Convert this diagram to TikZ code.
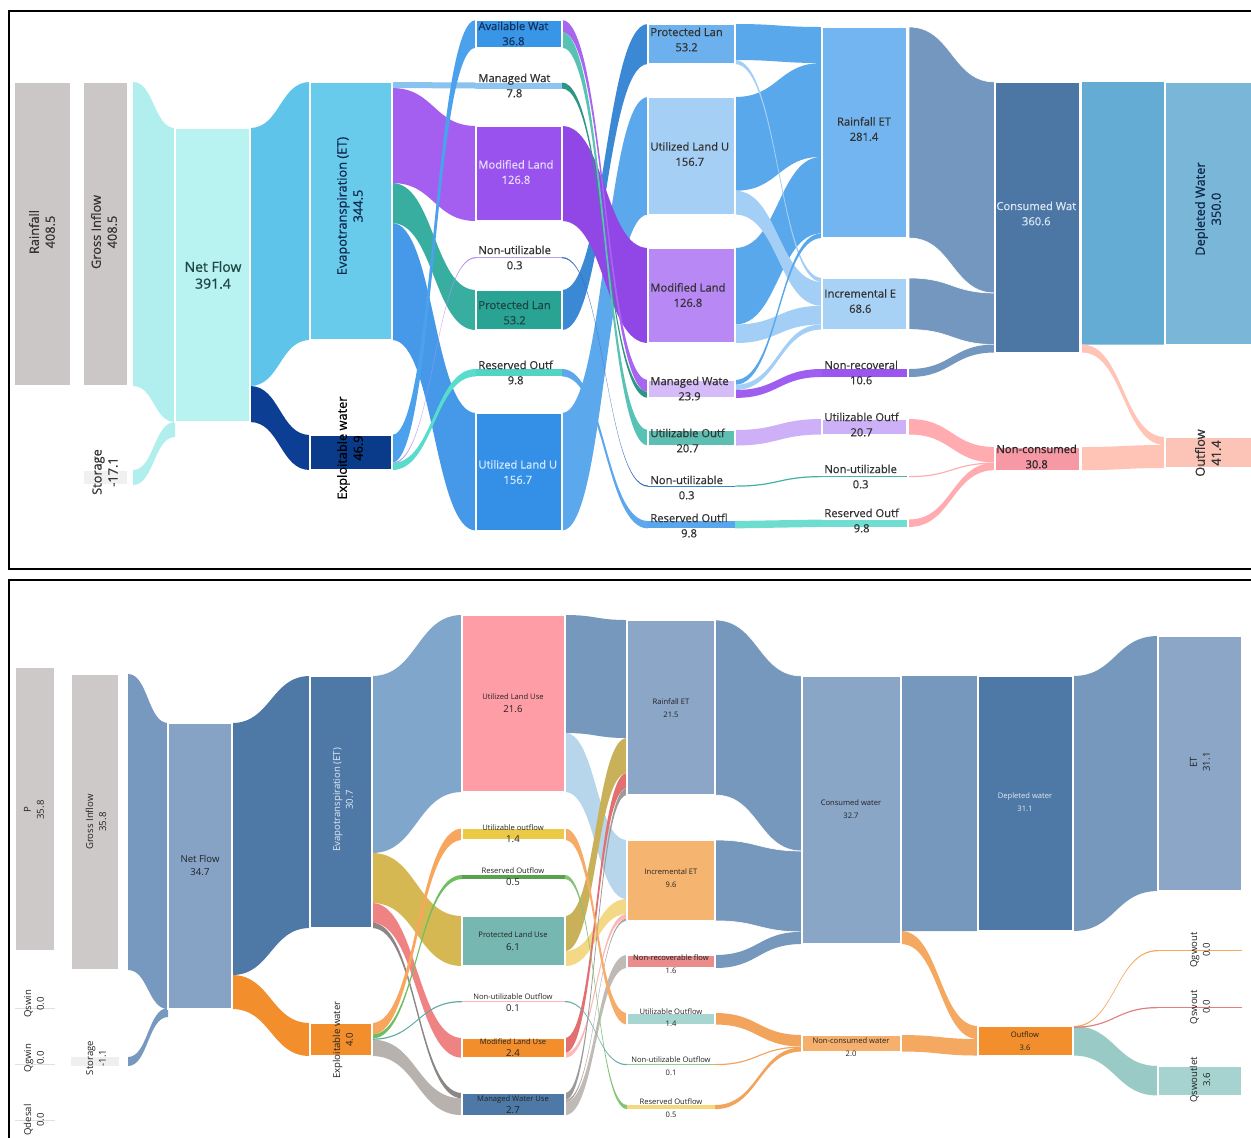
\documentclass[tikz,border=0pt]{standalone}
\usepackage{fontspec}
\setmainfont{Open Sans}
\newfontfamily\medfont[FakeBold=0.6]{Open Sans}
\usetikzlibrary{calc}
\pgfdeclarelayer{bands}
\pgfsetlayers{bands,main}

% ---------- colours: upper diagram ----------
\definecolor{ink}{HTML}{333333}
\definecolor{inkNavy}{HTML}{12305E}
\definecolor{inkTeal}{HTML}{1E4644}
\definecolor{inkLite}{HTML}{E6DCFF}
\definecolor{inkLiteB}{HTML}{D6EAFF}
\definecolor{inkLiteS}{HTML}{DCE6F2}
\definecolor{tGray}{HTML}{CCC7C7}
\definecolor{tStor}{HTML}{F0F0F0}
\definecolor{tNetF}{HTML}{B0EFED}
\definecolor{tNet}{HTML}{B8F3F1}
\definecolor{tEtF}{HTML}{5EC4EA}
\definecolor{tEt}{HTML}{68CBEC}
\definecolor{tExF}{HTML}{0C3F93}
\definecolor{tEx}{HTML}{0A3A8A}
\definecolor{tAv}{HTML}{3996E6}
\definecolor{tAvF}{HTML}{4BA1EB}
\definecolor{tMnE}{HTML}{8DC4F1}
\definecolor{tMnEF}{HTML}{8AC3F0}
\definecolor{tMdE}{HTML}{9A52EE}
\definecolor{tMdEF}{HTML}{A45FF0}
\definecolor{tNuE}{HTML}{B9A0EE}
\definecolor{tNuEF}{HTML}{BB90F2}
\definecolor{tPrE}{HTML}{29A394}
\definecolor{tPrEF}{HTML}{37AEA0}
\definecolor{tRsE}{HTML}{4FD4C5}
\definecolor{tRsEF}{HTML}{58DCCC}
\definecolor{tUtE}{HTML}{3490E6}
\definecolor{tUtEF}{HTML}{4699E9}
\definecolor{tPurF}{HTML}{A866F0}
\definecolor{tTeaF}{HTML}{58C3B4}
\definecolor{tDkTeaF}{HTML}{2E9585}
\definecolor{tMdFF}{HTML}{9146E6}
\definecolor{tNuFF}{HTML}{3A6CC0}
\definecolor{tPrFF}{HTML}{3B88D4}
\definecolor{tRsFF}{HTML}{5DA8EC}
\definecolor{tUtFF}{HTML}{5CA8EC}
\definecolor{tPrF}{HTML}{6CB1EE}
\definecolor{tUtF}{HTML}{A6CFF5}
\definecolor{tMdF}{HTML}{B888F4}
\definecolor{tMnF}{HTML}{D5BBF8}
\definecolor{tUoF}{HTML}{5CBFB1}
\definecolor{tNuF}{HTML}{3F7FCF}
\definecolor{tRsF}{HTML}{5AA6EC}
\definecolor{tRetF}{HTML}{5AA8EC}
\definecolor{tIetF}{HTML}{A3CEF5}
\definecolor{tNrF}{HTML}{A05EF0}
\definecolor{tUoGF}{HTML}{CDB0F8}
\definecolor{tNuGF}{HTML}{3FB2A2}
\definecolor{tRsGF}{HTML}{6FDCD0}
\definecolor{tRet}{HTML}{72B5F0}
\definecolor{tIet}{HTML}{A8D1F6}
\definecolor{tNr}{HTML}{9B56F0}
\definecolor{tUoG}{HTML}{CDB1F8}
\definecolor{tNuG}{HTML}{45B5A5}
\definecolor{tRsG}{HTML}{70DDD2}
\definecolor{tConF}{HTML}{7397BF}
\definecolor{tNcF}{HTML}{FFABB0}
\definecolor{tCon}{HTML}{4C77A5}
\definecolor{tNc}{HTML}{F799A5}
\definecolor{tDpF}{HTML}{64ACD3}
\definecolor{tOuF}{HTML}{FFC4B6}
\definecolor{tDp}{HTML}{79B6D7}
\definecolor{tOu}{HTML}{FCC4B6}
% ---------- colours: lower diagram ----------
\definecolor{bGray}{HTML}{CDC9C9}
\definecolor{bStor}{HTML}{EFEFEF}
\definecolor{bLine}{HTML}{E0E0E0}
\definecolor{bNetF}{HTML}{7799C0}
\definecolor{bNet}{HTML}{86A3C6}
\definecolor{bSteel}{HTML}{4E79A7}
\definecolor{bOrange}{HTML}{F28E2B}
\definecolor{bUtE}{HTML}{FF9DA7}
\definecolor{bUoE}{HTML}{EDC948}
\definecolor{bRsE}{HTML}{59A14F}
\definecolor{bPrE}{HTML}{76B7B2}
\definecolor{bNuE}{HTML}{FFB3BD}
\definecolor{bUtEF}{HTML}{80A7CB}
\definecolor{bPrEF}{HTML}{D6B853}
\definecolor{bMdEF}{HTML}{EF8383}
\definecolor{bMnEFa}{HTML}{8C8785}
\definecolor{bUoEF}{HTML}{F8A65E}
\definecolor{bRsEF}{HTML}{6FBF62}
\definecolor{bNuEF}{HTML}{5EA9A2}
\definecolor{bMnEFb}{HTML}{B8B2AE}
\definecolor{bSteelF}{HTML}{7698BD}
\definecolor{bLtBlue}{HTML}{B7D5EB}
\definecolor{bKhaki}{HTML}{C9B15A}
\definecolor{bLtYel}{HTML}{F3D985}
\definecolor{bRed}{HTML}{E37070}
\definecolor{bPink}{HTML}{FFB8B8}
\definecolor{bGrA}{HTML}{9E9A97}
\definecolor{bGrB}{HTML}{AAA5A2}
\definecolor{bGrC}{HTML}{BFBAB6}
\definecolor{bOrF}{HTML}{F7AB68}
\definecolor{bGrnF}{HTML}{84C477}
\definecolor{bTealF}{HTML}{6AAEA8}
\definecolor{bRet}{HTML}{8BA6C6}
\definecolor{bIet}{HTML}{F5B571}
\definecolor{bNr}{HTML}{EA8C8C}
\definecolor{bUoF}{HTML}{A7D6D1}
\definecolor{bNuF}{HTML}{8FD08A}
\definecolor{bRsF}{HTML}{F5D77C}
\definecolor{bCon}{HTML}{8AA6C6}
\definecolor{bNc}{HTML}{F5B06E}
\definecolor{bNcF}{HTML}{F3A45C}
\definecolor{bOuF}{HTML}{F5A860}
\definecolor{bQsw}{HTML}{E57D7D}
\definecolor{bQsl}{HTML}{A6D3CF}
\definecolor{bQslF}{HTML}{99CAC5}
\definecolor{inkB}{HTML}{222222}
\definecolor{inkBL}{HTML}{E4EBF3}

\tikzset{
  blk/.style={inner sep=0pt, outer sep=0pt, anchor=north west},
  sepline/.style={draw=white, line width=0.6pt},
  lab/.style={inner sep=0pt, align=center, text=ink},
  fbig/.style={font=\medfont\fontsize{6.4}{8}\selectfont},
  fnet/.style={font=\medfont\fontsize{7}{8.4}\selectfont},
  fcol/.style={font=\medfont\fontsize{5.6}{7.6}\selectfont},
  fsm/.style={font=\fontsize{3.8}{6.2}\selectfont},
  fmd/.style={font=\fontsize{4.8}{6.4}\selectfont},
  up/.style={rotate=90},
  frame/.style={draw=black, line width=1pt},
}

% a bar of the diagram: [options]{name}{x1}{y1}{x2}{y2}{colour}
\newcommand\sbar[7][sepline]{%
  \node[blk,fill=#7,minimum width={(#5-#3)*0.5pt},minimum height={(#6-#4)*0.5pt},#1] (#2) at (#3,#4) {};}
% a band from one bar to another: [gap]{from}{top}{bottom}{to}{top}{bottom}{style}
% offsets are measured downwards from the top edge of each bar;
% the optional gap leaves white space after the source bar
\newcommand\band[8][0]{%
  \begin{pgfonlayer}{bands}
  \fill[#8] let \p1=($(#2.north east)+(#1,0)$), \p2=(#5.north west), \n1={0.5*(\x1+\x2)} in
    (\x1,{\y1-(#3)*0.5pt}) .. controls ({\n1*1pt},{\y1-(#3)*0.5pt}) and ({\n1*1pt},{\y2-(#6)*0.5pt}) .. (\x2,{\y2-(#6)*0.5pt})
    -- (\x2,{\y2-(#7)*0.5pt}) .. controls ({\n1*1pt},{\y2-(#7)*0.5pt}) and ({\n1*1pt},{\y1-(#4)*0.5pt}) .. (\x1,{\y1-(#4)*0.5pt}) -- cycle;
  \end{pgfonlayer}}

\begin{document}
\begin{tikzpicture}[x=0.5pt,y=-0.5pt]
\useasboundingbox (0,0) rectangle (1251,1137);
\begin{pgfonlayer}{bands}
\fill[white] (0,0) rectangle (1251,1137);
\end{pgfonlayer}

% =================== upper diagram ===================
\sbar{Train}{14}{82}{71}{386}{tGray}
\sbar{Tgross}{83}{82}{128}{386}{tGray}
\sbar{Tstor}{83}{470}{128}{485}{tStor}
\sbar{Tnet}{175}{128}{250}{422}{tNet}
\sbar{Tet}{310}{82}{392}{340}{tEt}
\sbar{Texpl}{310}{435}{392}{470}{tEx}
% land / water classes
\sbar{TavE}{476}{20}{562}{47.6}{tAv}
\sbar[]{TmnE}{476}{82.5}{562}{88.5}{tMnE}
\sbar{TmdE}{476}{126}{562}{221}{tMdE}
\sbar[]{TnuE}{476}{257}{562}{258.2}{tNuE}
\sbar{TprE}{476}{290}{562}{330}{tPrE}
\sbar[]{TrsE}{476}{369}{562}{376.4}{tRsE}
\sbar{TutE}{476}{413}{562}{530.5}{tUtE}
% land use
\sbar{TprF}{648}{24}{735}{64}{tPrF}
\sbar{TutF}{648}{97}{735}{214.5}{tUtF}
\sbar{TmdF}{648}{248}{735}{343}{tMdF}
\sbar{TmnF}{648}{380}{735}{397.9}{tMnF}
\sbar{TuoF}{648}{430}{735}{445.5}{tUoF}
\sbar[]{TnuF}{648}{485.5}{735}{486.7}{tNuF}
\sbar[]{TrsF}{648}{521}{735}{528.4}{tRsF}
% ET split and outflows
\sbar{Tret}{822}{27}{907}{238}{tRet}
\sbar{Tiet}{822}{278}{907}{329.5}{tIet}
\sbar[]{TnrG}{822}{369}{907}{377}{tNr}
\sbar{TuoG}{822}{419}{907}{434.5}{tUoG}
\sbar[]{TnuG}{822}{476}{907}{477.2}{tNuG}
\sbar[]{TrsG}{822}{519.5}{907}{526.9}{tRsG}
\sbar{Tcon}{995}{82}{1080}{352.5}{tCon}
\sbar{Tnc}{995}{447}{1080}{470.1}{tNc}
\sbar{Tdep}{1165}{82}{1252}{344.5}{tDp}
\sbar{Tout}{1165}{437}{1252}{468}{tOu}

\band[5]{Tgross}{0}{304}{Tnet}{0}{294}{tNetF}
\band[5]{Tstor}{0}{15}{Tnet}{294}{309}{tNetF}
\band{Tnet}{0}{258}{Tet}{0}{258}{tEtF}
\band{Tnet}{258}{294}{Texpl}{0}{35}{tExF}
\band{Tet}{141}{258}{TutE}{0}{117.5}{tUtEF}
\band{Tet}{101}{141}{TprE}{0}{40}{tPrEF}
\band{Tet}{6}{101}{TmdE}{0}{95}{tMdEF}
\band{Tet}{0}{6}{TmnE}{0}{6}{tMnEF}
\band{Texpl}{0}{27.6}{TavE}{0}{27.6}{tAvF}
\band{Texpl}{27.6}{28.8}{TnuE}{0}{1.2}{tNuEF}
\band{Texpl}{28}{35}{TrsE}{0}{7.4}{tRsEF}
\band{TutE}{0}{117.5}{TutF}{0}{117.5}{tUtFF}
\band{TprE}{0}{40}{TprF}{0}{40}{tPrFF}
\band{TmdE}{0}{95}{TmdF}{0}{95}{tMdFF}
\band{TrsE}{0}{7.4}{TrsF}{0}{7.4}{tRsFF}
\band{TnuE}{0}{1.2}{TnuF}{0}{1.2}{tNuFF}
\band{TmnE}{0}{6}{TmnF}{12}{17.9}{tDkTeaF}
\band{TavE}{12}{27.6}{TuoF}{0}{15.5}{tTeaF}
\band{TavE}{0}{12}{TmnF}{0}{12}{tPurF}
\band{TprF}{0}{36}{Tret}{0}{36}{tRetF}
\band{TutF}{0}{93.75}{Tret}{36}{129.75}{tRetF}
\band{TmdF}{0}{76.5}{Tret}{129.75}{206.25}{tRetF}
\band{TprF}{36}{40}{Tiet}{0}{4}{tIetF}
\band{TutF}{93.75}{117.5}{Tiet}{4}{27.8}{tIetF}
\band{TmdF}{76.5}{95}{Tiet}{27.8}{46.4}{tIetF}
\band{TmnF}{0}{4.8}{Tret}{206.25}{211}{tRetF}
\band{TmnF}{4.8}{10}{Tiet}{46.4}{51.5}{tIetF}
\band{TmnF}{10}{17.9}{TnrG}{0}{8}{tNrF}
\band{TuoF}{0}{15.5}{TuoG}{0}{15.5}{tUoGF}
\band{TnuF}{0}{1.2}{TnuG}{0}{1.2}{tNuGF}
\band{TrsF}{0}{7.4}{TrsG}{0}{7.4}{tRsGF}
\band[2]{Tret}{0}{211}{Tcon}{0}{211}{tConF,draw=white,line width=0.3pt}
\band[2]{Tiet}{0}{51.5}{Tcon}{211}{262.5}{tConF,draw=white,line width=0.3pt}
\band[2]{TnrG}{0}{8}{Tcon}{262.5}{270.5}{tConF}
\band[2]{TuoG}{0}{15.5}{Tnc}{0}{15.5}{tNcF}
\band[2]{TnuG}{0}{1.2}{Tnc}{15.5}{16.7}{tNcF}
\band[2]{TrsG}{0}{7.4}{Tnc}{15.7}{23.1}{tNcF}
\band[2]{Tcon}{0}{262.5}{Tdep}{0}{262.5}{tDpF}
\band[2]{Tcon}{262.5}{270.5}{Tout}{0}{8}{tOuF}
\band[2]{Tnc}{0}{23.1}{Tout}{8}{31}{tOuF}

% labels
\node[lab,fbig,up] (LTrain) at (42,232) {Rainfall\\408.5};
\node[lab,fbig,up] (LTgross) at (104,232) {Gross Inflow\\408.5};
\node[lab,fbig,up] (LTstor) at (105,472) {Storage\\-17.1};
\node[lab,fnet,text=inkTeal] (LTnet) at (213,275) {Net Flow\\391.4};
\node[lab,fbig,up,text=inkNavy!80!black] (LTet) at (350,206) {Evapotranspiration (ET)\\344.5};
\node[lab,fbig,up,text=black] (LTexpl) at (350,448) {Exploitable water\\46.9};
\node[lab,fcol,anchor=west,text=inkNavy] (LTavE) at (478,33.5) {Available Wat\\36.8};
\node[lab,fcol,anchor=west] (LTmnE) at (478,85.5) {Managed Wat\\7.8};
\node[lab,fcol,anchor=west,text=inkLite] (LTmdE) at (478,172) {Modified Land\\126.8};
\node[lab,fcol,anchor=west] (LTnuE) at (478,257.5) {Non-utilizable\\0.3};
\node[lab,fcol,anchor=west,text=inkTeal] (LTprE) at (478,312.5) {Protected Lan\\53.2};
\node[lab,fcol,anchor=west] (LTrsE) at (478,372.5) {Reserved Outf\\9.8};
\node[lab,fcol,anchor=west,text=inkLiteB] (LTutE) at (478,472) {Utilized Land U\\156.7};
\node[lab,fcol,anchor=west] (LTprF) at (650,39.5) {Protected Lan\\53.2};
\node[lab,fcol,anchor=west] (LTutF) at (650,154) {Utilized Land U\\156.7};
\node[lab,fcol,anchor=west] (LTmdF) at (650,295) {Modified Land\\126.8};
\node[lab,fcol,anchor=west] (LTmnF) at (650,388.5) {Managed Wate\\23.9};
\node[lab,fcol,anchor=west] (LTuoF) at (650,440.5) {Utilizable Outf\\20.7};
\node[lab,fcol,anchor=west] (LTnuF) at (650,487.5) {Non-utilizable\\0.3};
\node[lab,fcol,anchor=west] (LTrsF) at (650,525.5) {Reserved Outfl\\9.8};
\node[lab,fcol] (LTret) at (864,129) {Rainfall ET\\281.4};
\node[lab,fcol,anchor=west] (LTiet) at (824,301) {Incremental E\\68.6};
\node[lab,fcol,anchor=west] (LTnr) at (824,372.5) {Non-recoveral\\10.6};
\node[lab,fcol,anchor=west] (LTuoG) at (824,424.5) {Utilizable Outf\\20.7};
\node[lab,fcol,anchor=west] (LTnuG) at (824,476.5) {Non-utilizable\\0.3};
\node[lab,fcol,anchor=west] (LTrsG) at (824,520.5) {Reserved Outf\\9.8};
\node[lab,fcol,anchor=west,text=inkLiteS] (LTcon) at (996,213.5) {Consumed Wat\\360.6};
\node[lab,fcol,anchor=west,text=black!85] (LTnc) at (996,456.5) {Non-consumed\\30.8};
\node[lab,fbig,up,text=inkNavy!80!black] (LTdep) at (1208,209) {Depleted Water\\350.0};
\node[lab,fbig,up] (LTout) at (1208,453) {Outflow\\41.4};

% =================== lower diagram ===================
\sbar{Bp}{15}{667}{55}{951}{bGray}
\sbar[]{Bqswin}{15}{1008}{55}{1009}{bLine}
\sbar[]{Bqgwin}{15}{1064}{55}{1065}{bLine}
\sbar[]{Bqdesal}{15}{1120}{55}{1121}{bLine}
\sbar{Bgross}{71}{674}{119}{970}{bGray}
\sbar[]{Bstor}{71}{1057}{119}{1066}{bStor}
\sbar{Bnet}{168}{723}{232}{1009}{bNet}
\sbar{Bet}{310}{676}{372}{928}{bSteel}
\sbar{Bexpl}{310}{1023}{372}{1056}{bOrange}
\sbar{ButE}{462}{615}{565}{792}{bUtE}
\sbar{BuoE}{462}{828.5}{565}{840}{bUoE}
\sbar[]{BrsE}{462}{875}{565}{879.1}{bRsE}
\sbar{BprE}{462}{916}{565}{966}{bPrE}
\sbar[]{BnuE}{462}{1001}{565}{1002}{bNuE}
\sbar{BmdE}{462}{1038}{565}{1057.7}{bOrange}
\sbar{BmnE}{462}{1093}{565}{1115.1}{bSteel}
\sbar{Bret}{627}{620}{715}{795}{bRet}
\sbar{Biet}{627}{840}{715}{920.8}{bIet}
\sbar{Bnr}{627}{955}{715}{968}{bNr}
\sbar{BuoF}{627}{1013}{715}{1024.5}{bUoF}
\sbar[]{BnuF}{627}{1064}{715}{1065}{bNuF}
\sbar[]{BrsF}{627}{1105}{715}{1109.1}{bRsF}
\sbar{Bcon}{802}{676}{901}{944}{bCon}
\sbar{Bnc}{802}{1035}{901}{1051.5}{bNc}
\sbar{Bdep}{978}{676}{1073}{931}{bSteel}
\sbar{Bout}{978}{1026}{1073}{1055.5}{bOrange}
\sbar{Beti}{1158}{636}{1242}{891}{bRet}
\sbar[]{Bqgw}{1158}{950}{1242}{951}{bOuF}
\sbar[]{Bqsw}{1158}{1007}{1242}{1008}{bQsw}
\sbar{Bqsl}{1158}{1066}{1242}{1095.5}{bQsl}

\band[9]{Bgross}{0}{296}{Bnet}{0}{286}{bNetF}
\band[9]{Bstor}{0}{9}{Bnet}{285}{294}{bNetF}
\band{Bnet}{0}{252}{Bet}{0}{252}{bSteel}
\band{Bnet}{252}{286}{Bexpl}{0}{33}{bOrange}
\band{Bet}{0}{177}{ButE}{0}{177}{bUtEF}
\band{Bet}{177}{227}{BprE}{0}{50}{bPrEF}
\band{Bet}{227}{246.7}{BmdE}{0}{19.7}{bMdEF}
\band{Bet}{246.7}{252}{BmnE}{0}{5.3}{bMnEFa}
\band{Bexpl}{16.6}{33}{BmnE}{5.3}{22.1}{bMnEFb}
\band{Bexpl}{0}{11.5}{BuoE}{0}{11.5}{bUoEF}
\band{Bexpl}{11.5}{15.6}{BrsE}{0}{4.1}{bRsEF}
\band{Bexpl}{15.6}{16.8}{BnuE}{0}{1.2}{bNuEF}
\band{ButE}{0}{118}{Bret}{0}{118}{bSteelF}
\band{ButE}{118}{177}{Biet}{0}{59}{bLtBlue}
\band{BprE}{0}{35}{Bret}{118}{153}{bKhaki}
\band{BprE}{35}{50}{Biet}{59}{74}{bLtYel}
\band{BmdE}{0}{15}{Bret}{153}{168}{bRed}
\band{BmdE}{15}{19.7}{Biet}{74}{78.7}{bPink}
\band{BmnE}{0}{7}{Bret}{168}{175}{bGrA}
\band{BmnE}{7}{9.1}{Biet}{78.7}{80.8}{bGrB}
\band{BmnE}{9.1}{22.1}{Bnr}{0}{13}{bGrC}
\band{BuoE}{0}{11.5}{BuoF}{0}{11.5}{bOrF}
\band{BrsE}{0}{4.1}{BrsF}{0}{4.1}{bGrnF}
\band{BnuE}{0}{1.2}{BnuF}{0}{1.2}{bTealF}
\band{Bret}{0}{175}{Bcon}{0}{175}{bSteelF,draw=white,line width=0.3pt}
\band{Biet}{0}{80.8}{Bcon}{175}{255.8}{bSteelF,draw=white,line width=0.3pt}
\band{Bnr}{0}{13}{Bcon}{255.8}{268}{bSteelF}
\band{BuoF}{0}{11.5}{Bnc}{0}{11.5}{bNcF}
\band{BnuF}{0}{1.2}{Bnc}{11.5}{12.7}{bNcF}
\band{BrsF}{0}{4.1}{Bnc}{12.4}{16.5}{bNcF}
\band{Bcon}{0}{255}{Bdep}{0}{255}{bSteelF}
\band{Bcon}{255}{268}{Bout}{0}{13}{bOuF}
\band{Bnc}{0}{16.5}{Bout}{13}{29.5}{bOuF}
\band{Bdep}{0}{255}{Beti}{0}{255}{bSteelF}
\band{Bout}{0}{29.5}{Bqsl}{0}{29.5}{bQslF}
\band{Bout}{0}{1.2}{Bqgw}{0}{1.2}{bOuF}
\band{Bout}{0.6}{1.8}{Bqsw}{0}{1.2}{bQsw}

% labels
\node[lab,fmd,up,text=inkB] (LBp) at (34,810) {P\\35.8};
\node[lab,fmd,up,text=inkB] (LBqswin) at (34,1004) {Qswin\\0.0};
\node[lab,fmd,up,text=inkB] (LBqgwin) at (34,1058) {Qgwin\\0.0};
\node[lab,fmd,up,text=inkB] (LBqdesal) at (34,1120) {Qdesal\\0.0};
\node[lab,fmd,up,text=inkB] (LBgross) at (96,822) {Gross Inflow\\35.8};
\node[lab,fmd,up,text=inkB] (LBstor) at (96,1058) {Storage\\-1.1};
\node[lab,fmd,text=inkB] (LBnet) at (200,865) {Net Flow\\34.7};
\node[lab,fmd,up,text=inkBL] (LBet) at (343,800) {Evapotranspiration (ET)\\30.7};
\node[lab,fmd,up,text=inkB] (LBexpl) at (343,1040) {Exploitable water\\4.0};
\node[lab,fsm,text=inkB] (LButE) at (513,703) {Utilized Land Use\\\fontsize{4.8}{6.2}\selectfont 21.6};
\node[lab,fsm,text=inkB] (LBuoE) at (513,833.5) {Utilizable outflow\\\fontsize{4.8}{6.2}\selectfont 1.4};
\node[lab,fsm,text=inkB] (LBrsE) at (513,876.5) {Reserved Outflow\\\fontsize{4.8}{6.2}\selectfont 0.5};
\node[lab,fsm,text=inkB] (LBprE) at (513,941) {Protected Land Use\\\fontsize{4.8}{6.2}\selectfont 6.1};
\node[lab,fsm,text=inkB] (LBnuE) at (513,1002.5) {Non-utilizable Outflow\\\fontsize{4.8}{6.2}\selectfont 0.1};
\node[lab,fsm,text=inkB] (LBmdE) at (513,1047.5) {Modified Land Use\\\fontsize{4.8}{6.2}\selectfont 2.4};
\node[lab,fsm,text=inkB] (LBmnE) at (513,1104.5) {Managed Water Use\\\fontsize{4.8}{6.2}\selectfont 2.7};
\node[lab,fsm,text=inkB] (LBret) at (671,708) {Rainfall ET\\21.5};
\node[lab,fsm,text=inkB] (LBiet) at (671,878) {Incremental ET\\9.6};
\node[lab,fsm,text=inkB] (LBnr) at (671,964) {Non-recoverable flow\\1.6};
\node[lab,fsm,text=inkB] (LBuoF) at (671,1017.5) {Utilizable Outflow\\1.4};
\node[lab,fsm,text=inkB] (LBnuF) at (671,1066) {Non-utilizable Outflow\\0.1};
\node[lab,fsm,text=inkB] (LBrsF) at (671,1108) {Reserved Outflow\\0.5};
\node[lab,fsm,text=inkB] (LBcon) at (851,809) {Consumed water\\32.7};
\node[lab,fsm,text=inkB] (LBnc) at (851,1047) {Non-consumed water\\2.0};
\node[lab,fsm,text=inkBL] (LBdep) at (1025,802) {Depleted water\\31.1};
\node[lab,fsm,text=inkB] (LBout) at (1025,1041) {Outflow\\3.6};
\node[lab,fmd,up,text=inkB] (LBeti) at (1200,762) {ET\\31.1};
\node[lab,fmd,up,text=inkB] (LBqgw) at (1200,950) {Qgwout\\0.0};
\node[lab,fmd,up,text=inkB] (LBqsw) at (1200,1007) {Qswout\\0.0};
\node[lab,fmd,up,text=inkB] (LBqsl) at (1200,1080) {Qswoutlet\\3.6};

% panel frames
\draw[frame] (1262,11) -- (9,11) -- (9,569) -- (1262,569);
\draw[frame] (1262,580) -- (9,580) -- (9,1150);
\end{tikzpicture}
\end{document}
